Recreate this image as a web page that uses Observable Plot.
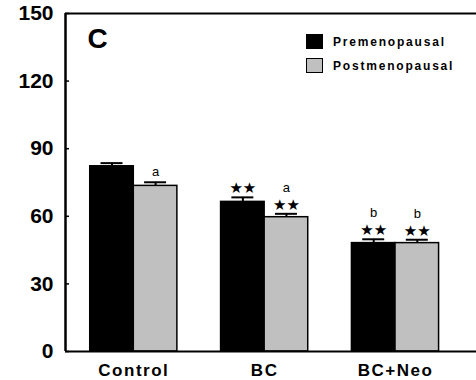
<!DOCTYPE html>
<html>
<head>
<meta charset="utf-8">
<script src="https://cdn.jsdelivr.net/npm/d3@7"></script>
<script src="https://cdn.jsdelivr.net/npm/@observablehq/plot@0.6"></script>
<style>
  html, body { margin: 0; padding: 0; background: #fff; }
  #wrap { position: relative; width: 476px; height: 380px; overflow: hidden; }
  .legend { position: absolute; left: 306px; font-family: "Liberation Sans", Arial, sans-serif;
            font-weight: bold; font-size: 12px; letter-spacing: 1.8px; color: #000; }
  .legend .row { position: absolute; left: 0; white-space: nowrap; display: flex; align-items: center; }
  .legend .sw { width: 17px; height: 15px; box-sizing: border-box; border: 1.5px solid #000; margin-right: 10px; }
  .xlab text { letter-spacing: 1.5px; }
</style>
</head>
<body>
<div id="wrap"></div>
<script>
// ---- data ----
const groups = ["Control", "BC", "BC+Neo"];
const series = ["Premenopausal", "Postmenopausal"];
const preValues = [82.2, 66.4, 48.1];
const preErrors = [1.4, 2.0, 1.7];
const postValues = [73.5, 59.6, 48.1];
const postErrors = [1.6, 1.5, 1.5];
const preStars = ["", "★★", "★★"];
const postStars = ["", "★★", "★★"];
const preLetters = ["", "", "b"];
const postLetters = ["a", "a", "b"];
const yTicks = [0, 30, 60, 90, 120, 150];
const panelLabel = "C";

const colors = {Premenopausal: "#000000", Postmenopausal: "#c0c0c0"};
const barW = 0.333;
const capHalf = 0.084;

const rows = [];
groups.forEach((g, i) => {
  rows.push({i, g, s: series[0], value: preValues[i], err: preErrors[i], stars: preStars[i], letter: preLetters[i], x1: i - barW, x2: i, c: i - barW / 2});
  rows.push({i, g, s: series[1], value: postValues[i], err: postErrors[i], stars: postStars[i], letter: postLetters[i], x1: i, x2: i + barW, c: i + barW / 2});
});

const font = "'Liberation Sans', Arial, sans-serif";

const chart = Plot.plot({
  width: 476,
  height: 380,
  marginLeft: 65,
  marginRight: 0,
  marginTop: 13,
  marginBottom: 29,
  style: {fontFamily: font, fontWeight: "bold", background: "#fff", color: "#000", overflow: "visible"},
  x: {domain: [-0.522, 2.619], axis: null, label: null},
  y: {domain: [0, 150], axis: null, label: null},
  color: {domain: series, range: series.map(s => colors[s])},
  marks: [
    // error bars
    Plot.ruleX(rows, {x: "c", y1: "value", y2: d => d.value + d.err, stroke: "#000", strokeWidth: 2}),
    Plot.ruleY(rows, {y: d => d.value + d.err, x1: d => d.c - capHalf, x2: d => d.c + capHalf, stroke: "#000", strokeWidth: 2}),
    // bars
    Plot.rectY(rows, {x1: "x1", x2: "x2", y1: 0, y2: "value", fill: "s", stroke: "#000", strokeWidth: 1.5}),
    // frame lines
    Plot.ruleY([0, 150], {stroke: "#000", strokeWidth: 2}),
    Plot.ruleX([-0.522], {stroke: "#000", strokeWidth: 2.5}),
    // y axis: inward ticks + labels
    Plot.axisY({ticks: yTicks, tickSize: 4, dx: 4, text: null, label: null, strokeWidth: 1.5}),
    Plot.axisY({ticks: yTicks, tickSize: 0, tickPadding: 12, label: null, fontSize: 21, fontWeight: "bold"}),
    // x axis labels
    Plot.axisX({ticks: [0, 1, 2], tickFormat: i => groups[i], tickSize: 0, tickPadding: 12, label: null, fontSize: 17, fontWeight: "bold", className: "xlab"}),
    // significance annotations
    Plot.text(rows.filter(d => d.stars), {x: "c", y: d => d.value + d.err, text: "stars", dy: -9, fontSize: 15, fontFamily: "DejaVu Sans", fill: "#000"}),
    Plot.text(rows.filter(d => d.letter && d.stars), {x: "c", y: d => d.value + d.err, text: "letter", dy: -26, fontSize: 13, fontWeight: "normal", fill: "#000"}),
    Plot.text(rows.filter(d => d.letter && !d.stars), {x: "c", y: d => d.value + d.err, text: "letter", dy: -10, fontSize: 13, fontWeight: "normal", fill: "#000"}),
    // panel label
    Plot.text([panelLabel], {frameAnchor: "top-left", dx: 22, dy: 15, lineAnchor: "top", textAnchor: "start", fontSize: 28, fontWeight: "bold", fill: "#000"})
  ]
});

const wrap = document.getElementById("wrap");
wrap.appendChild(chart);

// legend
const legend = document.createElement("div");
legend.className = "legend";
legend.style.top = "34px";
series.forEach((s, k) => {
  const row = document.createElement("div");
  row.className = "row";
  row.style.top = (k * 24) + "px";
  const sw = document.createElement("div");
  sw.className = "sw";
  sw.style.background = colors[s];
  const t = document.createElement("span");
  t.textContent = s;
  row.appendChild(sw);
  row.appendChild(t);
  legend.appendChild(row);
});
wrap.appendChild(legend);
</script>
</body>
</html>
